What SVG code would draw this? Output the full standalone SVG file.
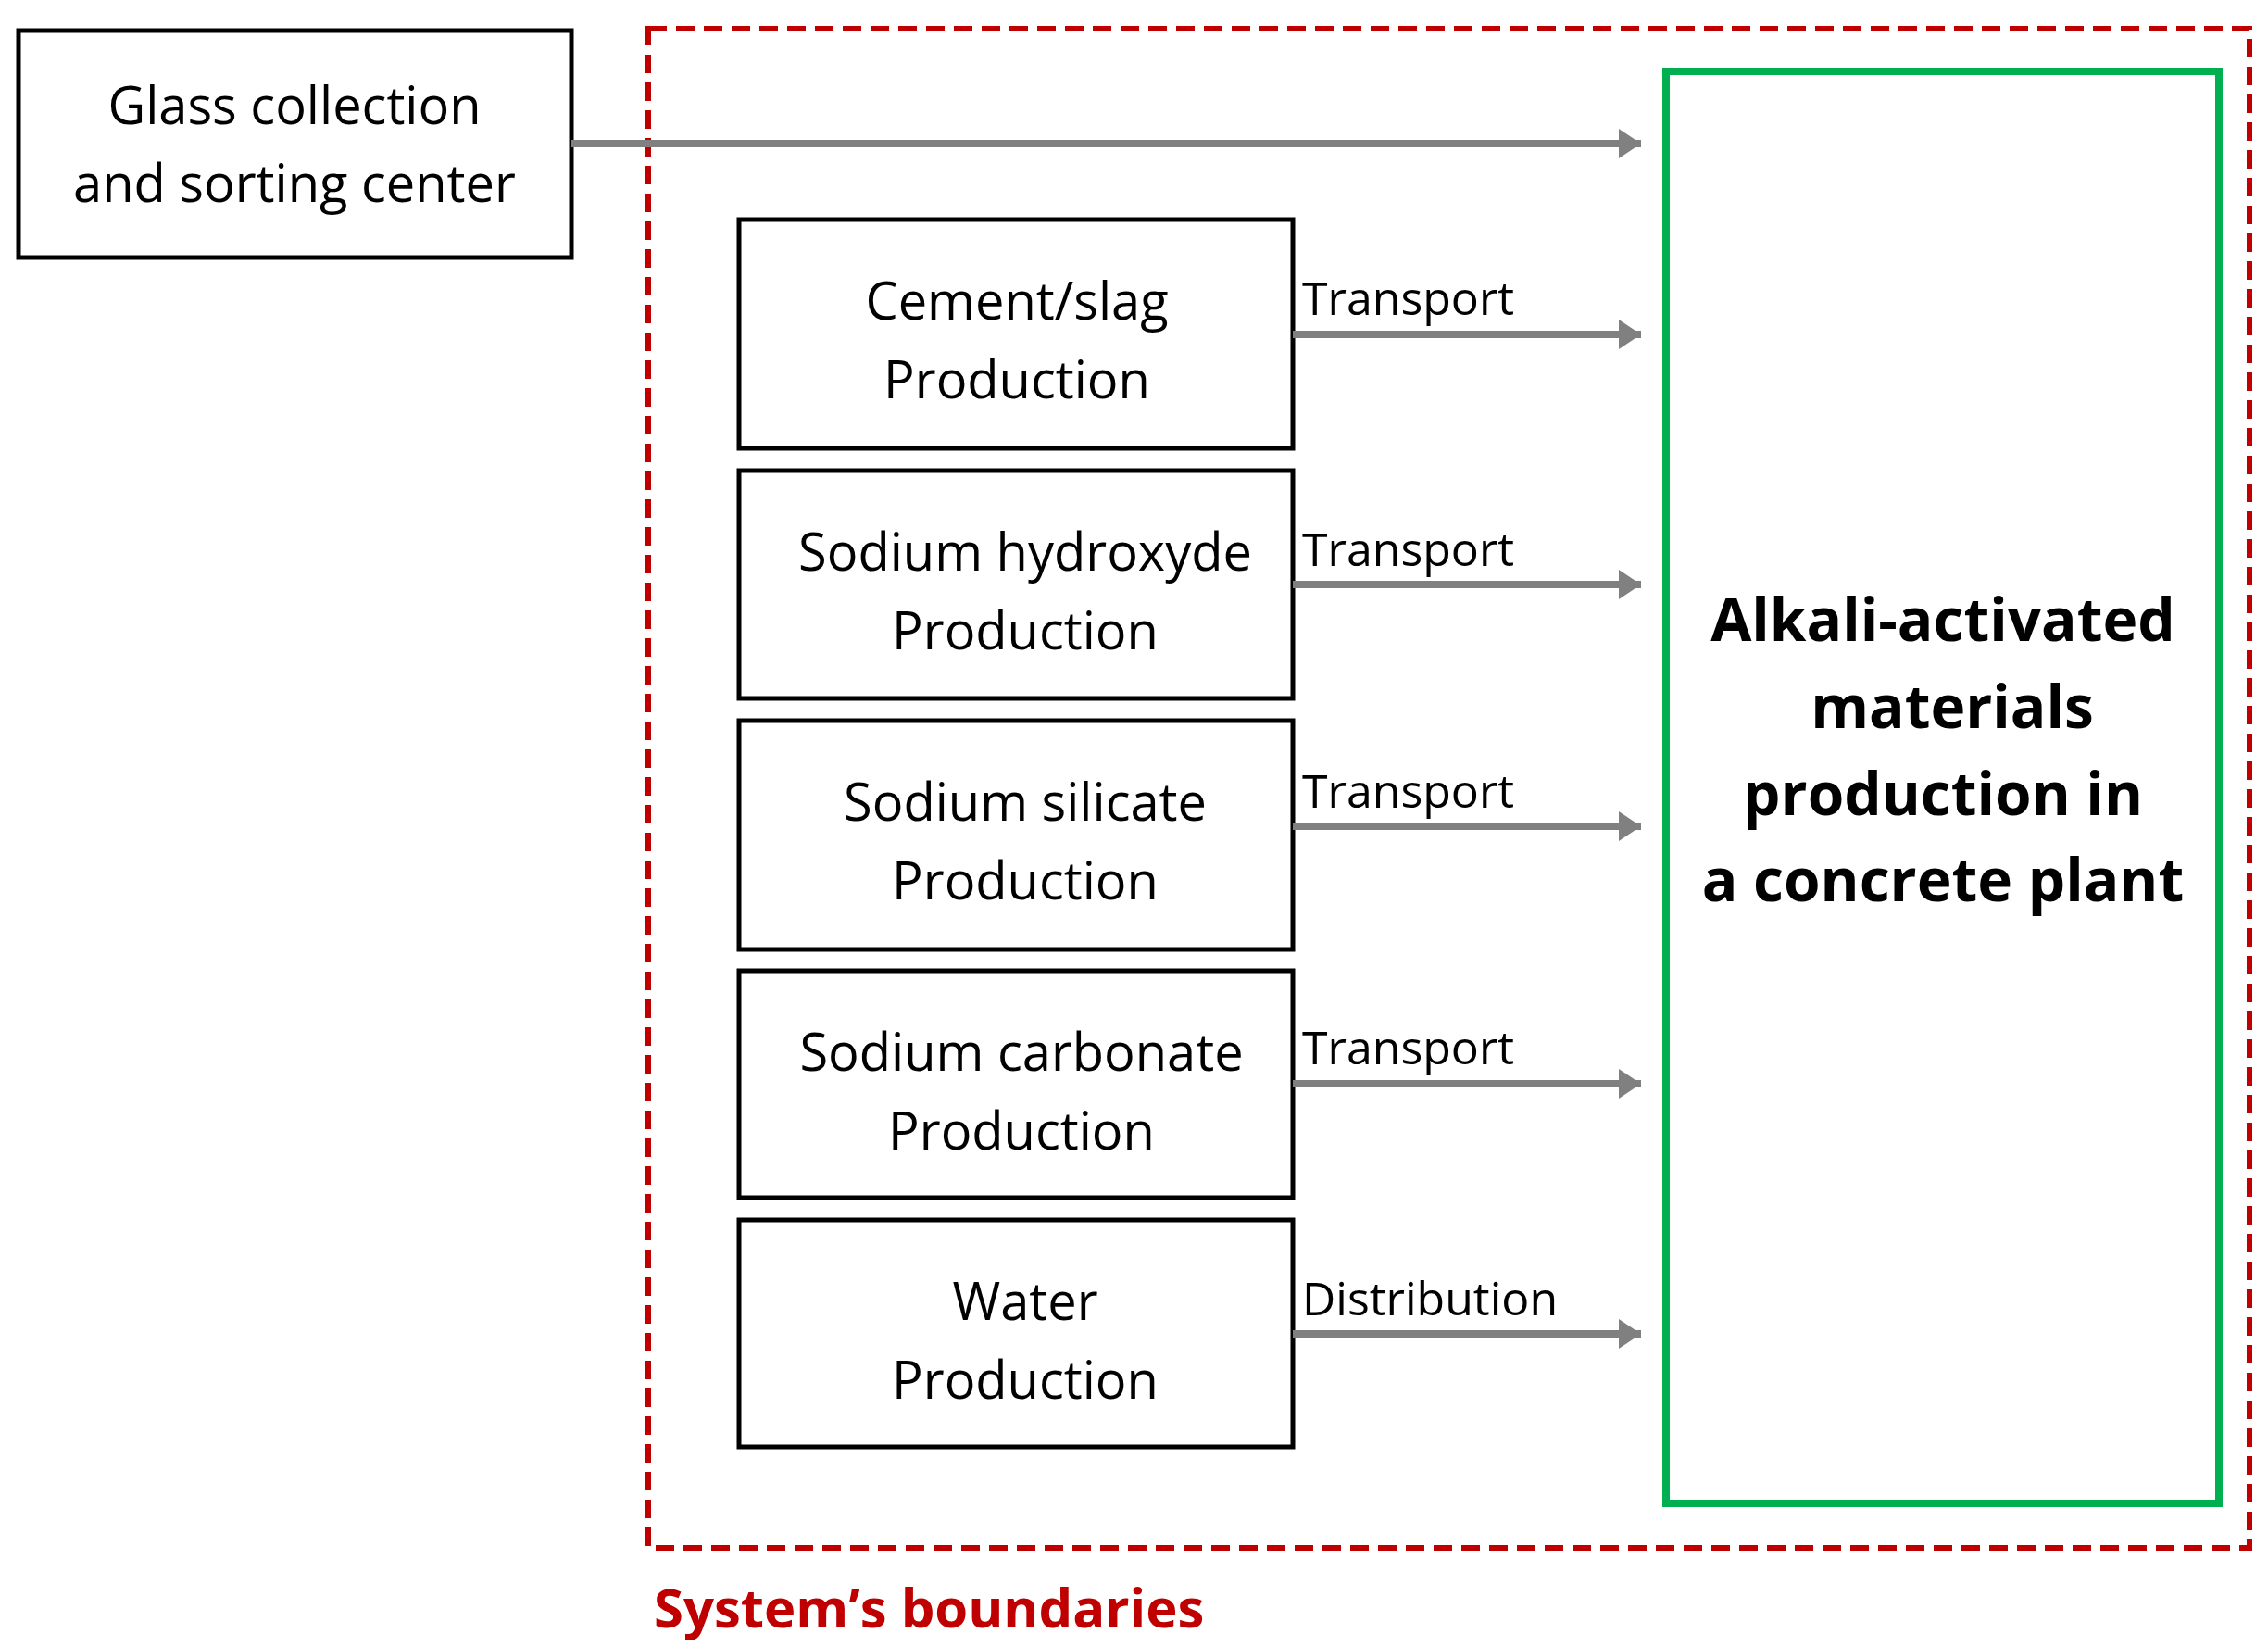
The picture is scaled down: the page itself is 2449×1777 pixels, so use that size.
<svg xmlns="http://www.w3.org/2000/svg" width="2449" height="1777" viewBox="0 0 2449 1777">
<style>
.box{fill:#fff;stroke:#000;stroke-width:5}
.t{font-family:"Open Sans","Liberation Sans",sans-serif;font-size:56px;text-anchor:middle;fill:#000}
.l{font-family:"Open Sans","Liberation Sans",sans-serif;font-size:50px;fill:#000}
.b{font-family:"Open Sans","Liberation Sans",sans-serif;font-size:64px;font-weight:bold;text-anchor:middle;fill:#000}
.c{stroke:#808080;stroke-width:8;fill:none;marker-end:url(#ah)}
</style>
<defs><marker id="ah" markerWidth="4" markerHeight="4" refX="3" refY="2" orient="auto"><path d="M0,0 L3,2 L0,4 z" fill="#808080"/></marker></defs>
<rect width="2449" height="1777" fill="#fff"/>
<g id="boundary">
<rect x="700" y="31" width="1729" height="1640" fill="none" stroke="#c00000" stroke-width="6" stroke-dasharray="20 10"/>
<text x="706" y="1757" font-family="'Open Sans','Liberation Sans',sans-serif" font-size="58" font-weight="bold" fill="#c00000">System’s boundaries</text>
</g>
<g id="glass"><rect class="box" x="20" y="33" width="597" height="245"/>
<text class="t" x="318" y="134">Glass collection</text><text class="t" x="318" y="218">and sorting center</text></g>
<g id="cement"><rect class="box" x="798" y="237" width="598" height="247"/>
<text class="t" x="1098" y="345">Cement/slag</text><text class="t" x="1098" y="430">Production</text></g>
<g id="naoh"><rect class="box" x="798" y="508" width="598" height="246"/>
<text class="t" x="1107" y="616">Sodium hydroxyde</text><text class="t" x="1107" y="701">Production</text></g>
<g id="silicate"><rect class="box" x="798" y="778" width="598" height="247"/>
<text class="t" x="1107" y="886">Sodium silicate</text><text class="t" x="1107" y="971">Production</text></g>
<g id="carbonate"><rect class="box" x="798" y="1048" width="598" height="245"/>
<text class="t" x="1103" y="1156">Sodium carbonate</text><text class="t" x="1103" y="1241">Production</text></g>
<g id="water"><rect class="box" x="798" y="1317" width="598" height="245"/>
<text class="t" x="1107" y="1425">Water</text><text class="t" x="1107" y="1510">Production</text></g>
<g id="plant"><rect x="1799" y="77" width="597" height="1546" fill="none" stroke="#00b050" stroke-width="8"/>
<text class="b" x="2098" y="692">Alkali-activated</text><text class="b" x="2108" y="786">materials</text>
<text class="b" x="2098" y="880">production in</text><text class="b" x="2098" y="973">a concrete plant</text></g>
<g id="connectors">
<line class="c" x1="617" y1="155" x2="1772" y2="155"/>
<line class="c" x1="1396" y1="361" x2="1772" y2="361"/>
<line class="c" x1="1396" y1="631" x2="1772" y2="631"/>
<line class="c" x1="1396" y1="892" x2="1772" y2="892"/>
<line class="c" x1="1396" y1="1170" x2="1772" y2="1170"/>
<line class="c" x1="1396" y1="1440" x2="1772" y2="1440"/>
<text class="l" x="1406" y="340">Transport</text>
<text class="l" x="1406" y="611">Transport</text>
<text class="l" x="1406" y="872">Transport</text>
<text class="l" x="1406" y="1149">Transport</text>
<text class="l" x="1406" y="1420">Distribution</text>
</g>
</svg>
